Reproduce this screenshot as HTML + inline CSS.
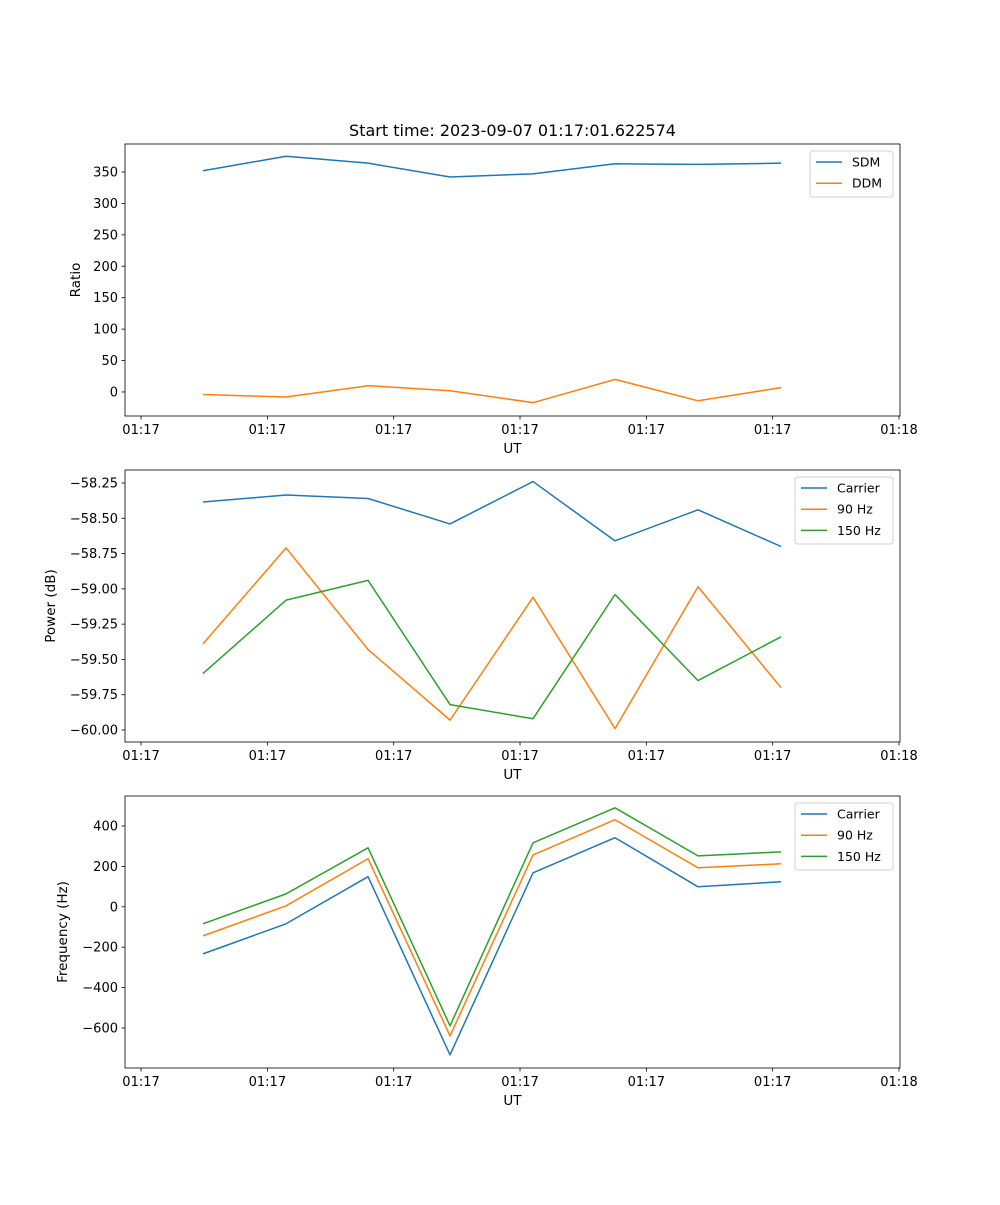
<!DOCTYPE html>
<html><head><meta charset="utf-8"><style>
html,body{margin:0;padding:0;background:#fff;}
svg text{font-family:"DejaVu Sans","Liberation Sans",sans-serif;fill:#000;}
</style></head><body>
<svg id="fig" width="1000" height="1200" xmlns="http://www.w3.org/2000/svg"></svg>
<script>
const times = [4.9, 11.48, 17.97, 24.46, 31.03, 37.52, 44.09, 50.66];
const xTicks = [0, 10, 20, 30, 40, 50, 60];
const xTickLabels = ["01:17","01:17","01:17","01:17","01:17","01:17","01:18"];
const sdm = [352, 375, 364, 342, 347, 363, 362, 364];
const ddm = [-4, -8, 10, 2, -17, 20, -14, 7];
const carrierPow = [-58.385, -58.335, -58.36, -58.54, -58.24, -58.66, -58.44, -58.70];
const hz90Pow = [-59.39, -58.71, -59.43, -59.93, -59.06, -59.99, -58.985, -59.70];
const hz150Pow = [-59.60, -59.08, -58.94, -59.82, -59.92, -59.04, -59.65, -59.34];
const carrierFreq = [-233, -84, 149, -733, 168, 342, 99, 124];
const hz90Freq = [-144, 5, 238, -639, 257, 431, 193, 213];
const hz150Freq = [-84, 64, 292, -589, 317, 490, 252, 272];
const ticks1 = [0, 50, 100, 150, 200, 250, 300, 350];
const ticks2 = [-60.00, -59.75, -59.50, -59.25, -59.00, -58.75, -58.50, -58.25];
const ticks3 = [-600, -400, -200, 0, 200, 400];

const NS = "http://www.w3.org/2000/svg";
const svg = document.getElementById("fig");
function el(tag, attrs, parent){ const e=document.createElementNS(NS,tag); for(const k in attrs) e.setAttribute(k,attrs[k]); (parent||svg).appendChild(e); return e; }

const L=125, R=900, xMin=-1.27, xMax=60.08;
function xs(t){ return L + (t - xMin)/(xMax - xMin)*(R-L); }

function panel(name, top, yMin, yMax, yTicks, fmt, ylabel, series, legend){
  const bot = top + 272;
  const g = el("g", {});
  
  
  const ys = v => bot - (v - yMin)/(yMax - yMin)*(bot-top);
  series.forEach(s => {
    const p = el("polyline", {points: s.vals.map((v,i)=>xs(times[i]).toFixed(2)+","+ys(v).toFixed(2)).join(" "), fill:"none", stroke:s.color, "stroke-width":1.5, "stroke-linejoin":"round"}, g);
    
    
  });
  const frame = el("rect", {x:L, y:top, width:R-L, height:bot-top, fill:"none", stroke:"#000", "stroke-width":0.8}, g);
  
  
  xTicks.forEach((t,i) => {
    const x = xs(t);
    el("line", {x1:x, x2:x, y1:bot, y2:bot+3.5, stroke:"#000", "stroke-width":0.8}, g);
    const tx = el("text", {x:x, y:bot+18, "text-anchor":"middle", "font-size":"13"}, g);
    tx.textContent = xTickLabels[i];
    
    
  });
  const xl = el("text", {x:(L+R)/2, y:bot+37, "text-anchor":"middle", "font-size":"13.5"}, g);
  xl.textContent = "UT";
  
  
  yTicks.forEach(v => {
    const y = ys(v);
    el("line", {x1:L-3.5, x2:L, y1:y, y2:y, stroke:"#000", "stroke-width":0.8}, g);
    const tx = el("text", {x:L-7, y:y+4.5, "text-anchor":"end", "font-size":"13"}, g);
    tx.textContent = fmt(v);
    
    
  });
  const yl = el("text", {x:0, y:0, "text-anchor":"middle", "font-size":"13.5", transform:`translate(${legend.ylx},${(top+bot)/2}) rotate(-90)`}, g);
  yl.textContent = ylabel;
  
  
  const lg = el("g", {}, g);
  
  
  const h = 4 + series.length*21;
  el("rect", {x:legend.x, y:top+7, width:R-7-legend.x, height:h, rx:3, fill:"#fff", stroke:"#ccc", "stroke-width":1, opacity:0.9}, lg);
  series.forEach((s,i) => {
    const y = top+18+i*21.2;
    el("line", {x1:legend.x+6, x2:legend.x+32, y1:y, y2:y, stroke:s.color, "stroke-width":1.5}, lg);
    const t = el("text", {x:legend.x+42, y:y+4.5, "font-size":"12.5"}, lg);
    t.textContent = s.label;
    
    
  });
}

const title = el("text", {x:512.5, y:136, "text-anchor":"middle", "font-size":"16"});
title.textContent = "Start time: 2023-09-07 01:17:01.622574";



panel("ratio-panel", 144, -38.2, 394.5, ticks1, v=>String(v), "Ratio",
  [{id:"sdm-line", vals:sdm, color:"#1f77b4", label:"SDM"},{id:"ddm-line", vals:ddm, color:"#ff7f0e", label:"DDM"}],
  {x:810, ylx:80});
panel("power-panel", 470, -60.085, -58.158, ticks2, v=>(v<0?"\u2212":"")+Math.abs(v).toFixed(2), "Power (dB)",
  [{id:"carrier-power-line", vals:carrierPow, color:"#1f77b4", label:"Carrier"},{id:"hz90-power-line", vals:hz90Pow, color:"#ff7f0e", label:"90 Hz"},{id:"hz150-power-line", vals:hz150Pow, color:"#2ca02c", label:"150 Hz"}],
  {x:795, ylx:55});
panel("frequency-panel", 796, -798, 548.5, ticks3, v=>(v<0?"\u2212":"")+Math.abs(v), "Frequency (Hz)",
  [{id:"carrier-freq-line", vals:carrierFreq, color:"#1f77b4", label:"Carrier"},{id:"hz90-freq-line", vals:hz90Freq, color:"#ff7f0e", label:"90 Hz"},{id:"hz150-freq-line", vals:hz150Freq, color:"#2ca02c", label:"150 Hz"}],
  {x:795, ylx:67});
</script>
</body></html>
